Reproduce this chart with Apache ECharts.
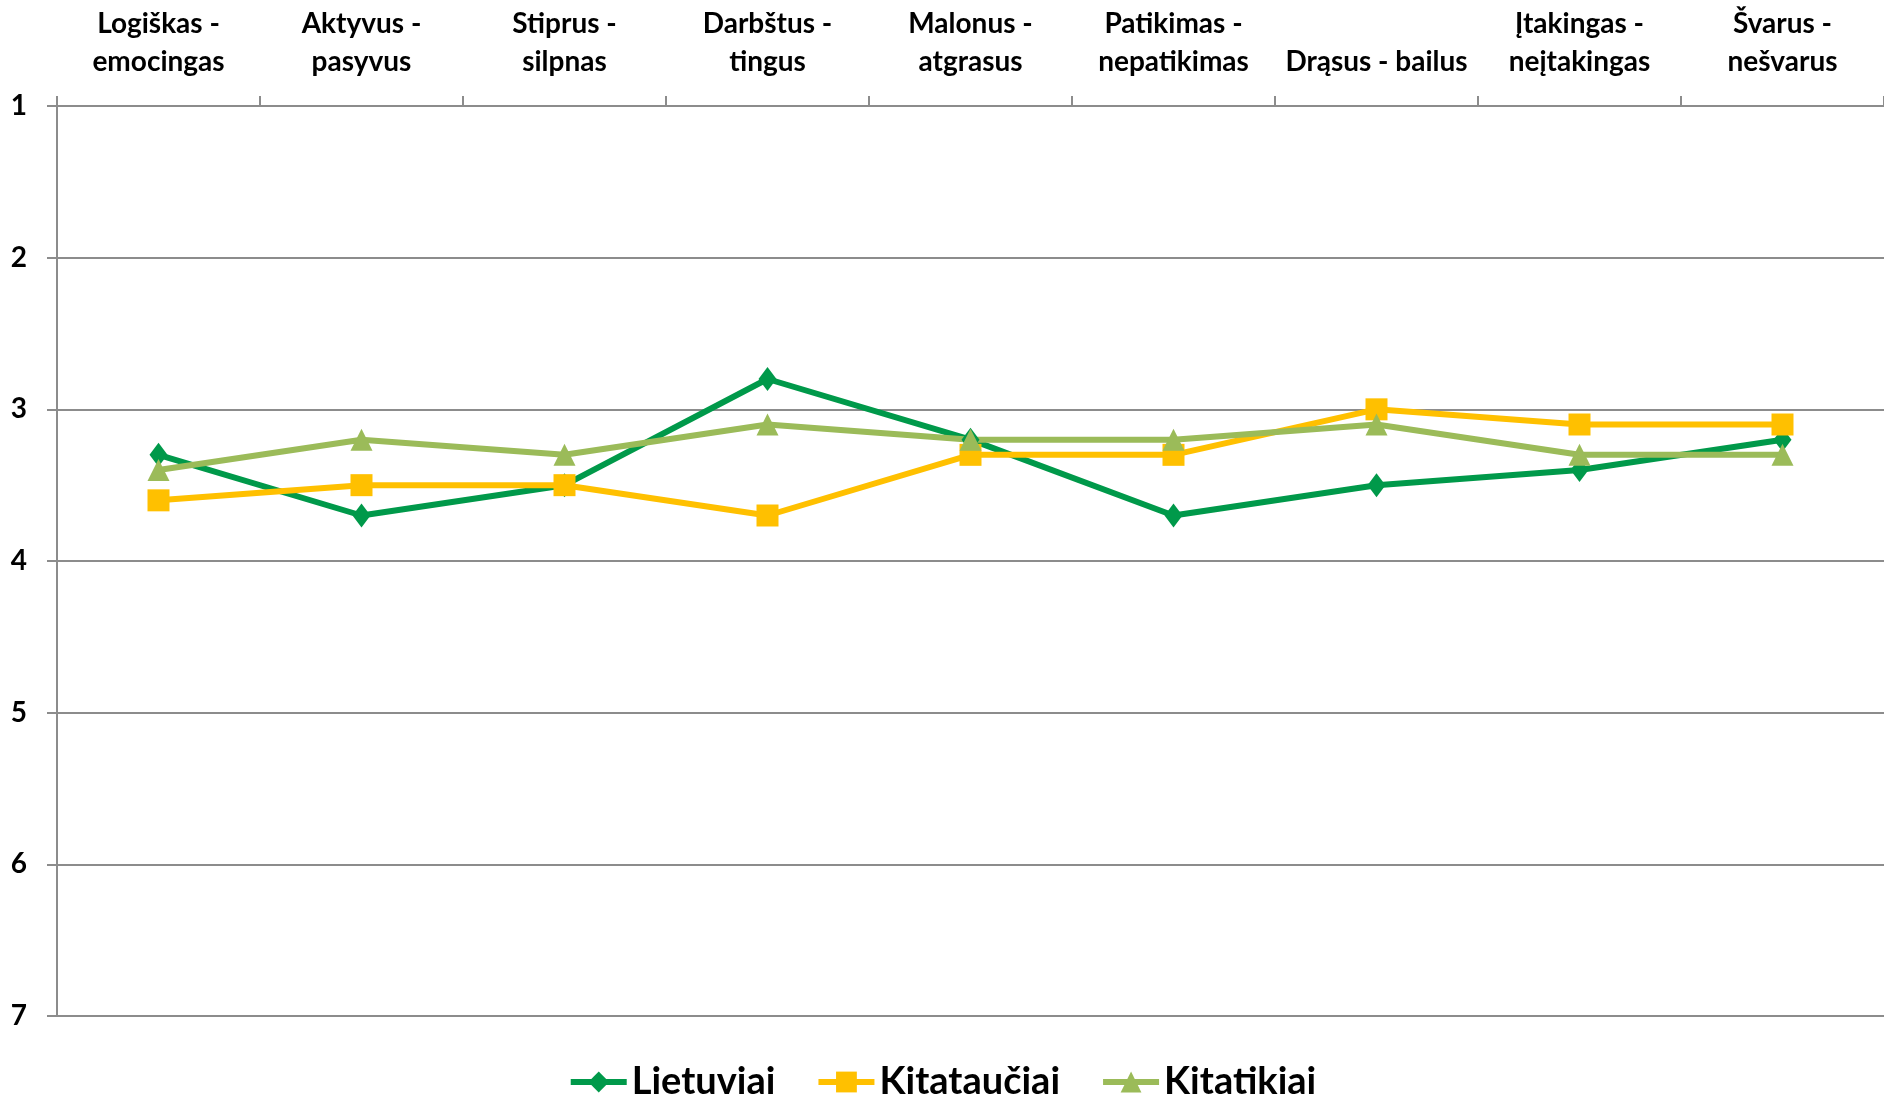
<!DOCTYPE html>
<html>
<head>
<meta charset="utf-8">
<script src="https://cdn.jsdelivr.net/npm/echarts@6/dist/echarts.min.js"></script>
<style>
    html, body { margin: 0; padding: 0; background: #fff; }
    #chart { width: 1884px; height: 1100px; }
</style>
</head>
<body>
<div id="chart"></div>
<script>
    // kategorijos ir reikšmės nuskaitytos nuo paveikslo
    var categories = [
        "Logiškas -\nemocingas", "Aktyvus -\npasyvus", "Stiprus -\nsilpnas",
        "Darbštus -\ntingus", "Malonus -\natgrasus", "Patikimas -\nnepatikimas",
        "Drąsus - bailus", "Įtakingas -\nneįtakingas", "Švarus -\nnešvarus"
    ];
    var seriesNames = ["Lietuviai", "Kitataučiai", "Kitatikiai"];
    var lietuviai = [3.3, 3.7, 3.5, 2.8, 3.2, 3.7, 3.5, 3.4, 3.2];
    var kitatauciai = [3.6, 3.5, 3.5, 3.7, 3.3, 3.3, 3.0, 3.1, 3.1];
    var kitatikiai = [3.4, 3.2, 3.3, 3.1, 3.2, 3.2, 3.1, 3.3, 3.3];
    var yTicks = [1, 2, 3, 4, 5, 6, 7];

    var font = "Lato, 'Noto Sans', sans-serif";
    var gray = "#8c8c8c";

    var chart = echarts.init(document.getElementById("chart"));

    function line(name, data, color, symbol, size) {
        return {
            name: name,
            type: "line",
            data: data,
            symbol: symbol,
            symbolSize: size,
            showAllSymbol: true,
            lineStyle: { color: color, width: 6 },
            itemStyle: { color: color },
            emphasis: { disabled: true }
        };
    }

    var option = {
        animation: false,
        textStyle: { fontFamily: font },
        grid: { left: 57, right: 0, top: 106, bottom: 84, containLabel: false },
        legend: {
            data: seriesNames,
            top: 1058,
            left: "center",
            itemWidth: 56,
            itemHeight: 26,
            itemGap: 40,
            lineStyle: { width: 6 },
            textStyle: { fontFamily: font, fontSize: 38, fontWeight: "bold", color: "#000", padding: [0, 0, 0, 0] }
        },
        xAxis: {
            type: "category",
            position: "top",
            data: categories,
            boundaryGap: true,
            axisLine: { lineStyle: { color: gray, width: 2 } },
            axisTick: { show: true, length: 10, lineStyle: { color: gray, width: 2 } },
            axisLabel: {
                interval: 0,
                margin: 25,
                fontFamily: font,
                fontSize: 28,
                fontWeight: "bold",
                color: "#000",
                lineHeight: 38
            }
        },
        yAxis: {
            type: "value",
            inverse: true,
            min: yTicks[0],
            max: yTicks[yTicks.length - 1],
            interval: 1,
            axisLine: { show: true, lineStyle: { color: gray, width: 2 } },
            axisTick: { show: true, length: 10, lineStyle: { color: gray, width: 2 } },
            splitLine: { show: true, lineStyle: { color: gray, width: 2 } },
            axisLabel: {
                margin: 30,
                fontFamily: font,
                fontSize: 28,
                fontWeight: "bold",
                color: "#000"
            }
        },
        series: [
            line(seriesNames[0], lietuviai, "#00994a", "diamond", [18, 24]),
            line(seriesNames[1], kitatauciai, "#ffc000", "rect", 22),
            line(seriesNames[2], kitatikiai, "#9bbb59", "triangle", 22)
        ]
    };

    chart.setOption(option);
</script>
</body>
</html>
